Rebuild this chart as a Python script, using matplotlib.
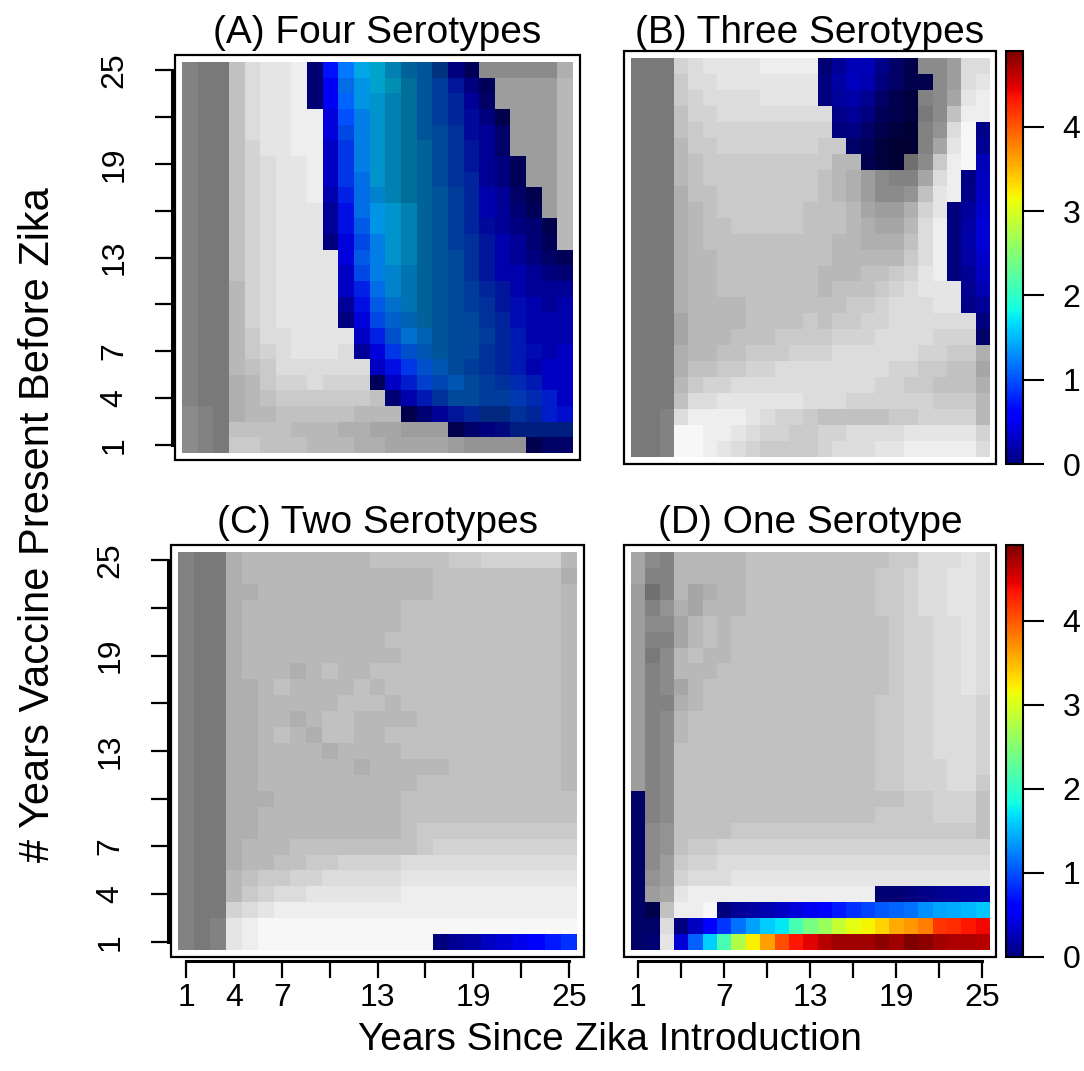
import numpy as np
import matplotlib
matplotlib.use("Agg")
import matplotlib.pyplot as plt
from matplotlib.colors import Normalize
from matplotlib.cm import ScalarMappable
from matplotlib.patches import Rectangle

plt.rcParams['font.family'] = ['Liberation Sans', 'DejaVu Sans']

W, H = 1084, 1071
TICKS = [1, 4, 7, 10, 13, 16, 19, 22, 25]
Y_LABELS = ['1', '4', '7', '', '13', '', '19', '', '25']
X_LABELS_C = ['1', '4', '7', '', '13', '', '19', '', '25']
X_LABELS_D = ['1', '', '7', '', '13', '', '19', '', '25']
CB_TICKS = [0, 1, 2, 3, 4]
VMAX = 4.9
TITLES = ['(A) Four Serotypes', '(B) Three Serotypes',
          '(C) Two Serotypes', '(D) One Serotype']

# grey cells: hex digit k -> level (112 + 9k) / 255, one string per row from
# year 25 (top) down to year 1, "." where the cell is coloured instead
A_GREY = [
    "2119cdde" + "." * 11 + "333337",
    "2119cdde" + "." * 12 + "55558",
    "2119cdde" + "." * 12 + "55558",
    "2119cddee" + "." * 12 + "5558",
    "2119cddee" + "." * 12 + "5558",
    "2119bddee" + "." * 12 + "5558",
    "2119bcdde" + "." * 13 + "558",
    "2119bcdde" + "." * 13 + "558",
    "2119bcdde" + "." * 14 + "58",
    "2119bcddd" + "." * 14 + "58",
    "2119bcddd" + "." * 15 + "8",
    "2119bcddd" + "." * 15 + "8",
    "2119bcdddd" + "." * 15,
    "2119bcdddd" + "." * 15,
    "2118bcdddd" + "." * 15,
    "2118bcdddd" + "." * 15,
    "2118bcdddd" + "." * 15,
    "2118accdddd" + "." * 14,
    "2118abcdddc" + "." * 14,
    "21189acccccc" + "." * 13,
    "21178abbcbbb" + "." * 13,
    "211789aaaaaa9" + "." * 12,
    "32178899999888" + "." * 11,
    "32199998887766555" + "." * 8,
    "321aa99988877666654444" + "." * 3,
]

# coloured cells: (year, first column, values, shade digits d -> (d + 1) / 10)
A_RUNS = [
    (25, 9, [0, 0.7, 1.2, 1.5, 1.6, 1.5, 1.4, 1.3, 1.1, 0, 0], "89987655496"),
    (24, 9, [0, 0.5, 1.2, 1.4, 1.6, 1.6, 1.5, 1.3, 1.1, 0.8, 0, 0], "898876555596"),
    (23, 9, [0, 0.5, 1.1, 1.4, 1.5, 1.5, 1.5, 1.3, 1.1, 0.9, 0.1, 0], "899876555597"),
    (22, 10, [0.4, 1.0, 1.3, 1.5, 1.5, 1.5, 1.3, 1.1, 0.9, 0.7, 0, 0], "998765555595"),
    (21, 10, [0.4, 1.0, 1.3, 1.5, 1.5, 1.5, 1.3, 1.2, 1.0, 0.7, 0.1, 0], "988765555597"),
    (20, 10, [0.3, 0.9, 1.3, 1.5, 1.5, 1.5, 1.4, 1.2, 1.0, 0.8, 0.1, 0], "988765555597"),
    (19, 10, [0.3, 0.9, 1.3, 1.5, 1.5, 1.5, 1.4, 1.2, 1.0, 0.8, 0.1, 0, 0], "9887655555996"),
    (18, 10, [0.3, 0.9, 1.2, 1.5, 1.5, 1.5, 1.4, 1.2, 1.0, 0.9, 0.1, 0, 0], "9887655555996"),
    (17, 10, [0.2, 0.8, 1.2, 1.4, 1.5, 1.5, 1.4, 1.3, 1.1, 0.9, 0.2, 0.1, 0, 0], "98876555559975"),
    (16, 10, [0.1, 0.7, 1.2, 1.4, 1.5, 1.5, 1.4, 1.3, 1.1, 0.9, 0.2, 0.1, 0, 0], "98887655559986"),
    (15, 10, [0.1, 0.7, 1.1, 1.4, 1.5, 1.5, 1.4, 1.3, 1.1, 0.9, 0.7, 0.1, 0, 0, 0], "988876555559985"),
    (14, 10, [0, 0.4, 1.0, 1.3, 1.5, 1.5, 1.4, 1.3, 1.1, 1.0, 0.8, 0.2, 0.1, 0, 0], "998876555559986"),
    (13, 11, [0.4, 1.1, 1.3, 1.5, 1.5, 1.4, 1.3, 1.2, 1.0, 0.8, 0.2, 0.1, 0, 0, 0], "988765555599976"),
    (12, 11, [0.3, 1.0, 1.3, 1.4, 1.4, 1.4, 1.3, 1.2, 1.0, 0.8, 0.2, 0.2, 0.1, 0, 0], "988765555599998"),
    (11, 11, [0.3, 0.8, 1.2, 1.4, 1.4, 1.4, 1.3, 1.2, 1.1, 0.9, 0.8, 0.2, 0.1, 0.1, 0.1], "988765555559999"),
    (10, 11, [0.1, 0.7, 1.1, 1.3, 1.4, 1.4, 1.3, 1.2, 1.1, 1.0, 0.8, 0.7, 0.2, 0.1, 0.2], "988765555556999"),
    (9, 11, [0, 0.4, 1.0, 1.2, 1.3, 1.4, 1.3, 1.2, 1.2, 1.0, 0.9, 0.7, 0.2, 0.2, 0.2], "998765555556999"),
    (8, 12, [0.3, 0.8, 1.1, 1.3, 1.3, 1.3, 1.2, 1.2, 1.1, 0.9, 0.8, 0.2, 0.2, 0.2], "98776555556999"),
    (7, 12, [0.1, 0.4, 0.9, 1.1, 1.2, 1.3, 1.2, 1.2, 1.0, 0.9, 0.8, 0.7, 0.2, 0.3], "99876555556699"),
    (6, 13, [0.3, 0.7, 0.9, 1.1, 1.2, 1.2, 1.1, 1.0, 0.9, 0.8, 0.2, 0.3, 0.3], "9887655556999"),
    (5, 13, [0, 0.3, 0.8, 1.0, 1.1, 1.2, 1.2, 1.1, 1.0, 0.9, 0.8, 0.3, 0.3], "6977665556699"),
    (4, 14, [0, 0.2, 0.8, 1.0, 1.2, 1.2, 1.1, 1.1, 1.0, 0.9, 0.8, 0.3], "896555556679"),
    (3, 15, [0, 0, 0.1, 0.8, 0.9, 1.0, 1.0, 1.0, 0.9, 0.8, 0.7], "58955445577"),
    (2, 18, [0, 0, 0, 0.7, 0.9, 0.9, 0.9, 0.9], "57944444"),
    (1, 23, [0, 0, 0], "577"),
]

B_GREY = [
    "111bcddddeeee" + "." * 7 + "335cc",
    "111accddddddd" + "." * 8 + "35cd",
    "111abccccdddd" + "." * 7 + "236de",
    "1119bbcccccccc" + "." * 6 + "139ee",
    "1119abbbbbbbbb" + "." * 6 + "24cf" + ".",
    "1118aabbbbbbbaa" + "." * 5 + "26df" + ".",
    "11189aaaaaaaaa88" + "." * 3 + "03aef" + ".",
    "11189aaaaaaaa98753226ce" + "..",
    "111799aaaaaaa98753349de" + "..",
    "111789aaaaaa99986557bd" + "...",
    "1117899aaaaa99987668ce" + "...",
    "11178999999999887779ce" + "...",
    "111788" + "9" * 8 + "8" + "8888ace" + "...",
    "111788" + "9" * 7 + "888" + "99abde" + "...",
    "111788" + "9" * 7 + "8" + "999" + "abcddd" + "..",
    "11178888" + "9" * 7 + "aabcccdd" + "..",
    "11168888" + "9999" + "a9aa" + "bbcccccc" + ".",
    "1116888" + "999" + "aaaa" + "bbb" + "cccc" + "bbb" + ".",
    "111788" + "99" + "aaa" + "bbb" + "cccccc" + "bb" + "aa7",
    "111799" + "aa" + "bb" + "cccccccc" + "bb" + "aa" + "996",
    "1118abb" + "c" * 10 + "bb" + "aa" + "999" + "7",
    "1119cc" + "dddddd" + "ccc" + "bbbbbb" + "aaa" + "8",
    "112ceeeedcbba" + "99999" + "aa" + "bbbb" + "8",
    "112ffeedcbbaa" + "bb" + "cccc" + "ddddd" + "b",
    "112ffedcb" + "aaaa" + "b" + "ccc" + "dd" + "eeeee" + "c",
]

B_RUNS = [
    (25, 14, [0, 0.11, 0.24, 0.24, 0.05, 0, 0], "8999975"),
    (24, 14, [0, 0.16, 0.27, 0.22, 0, 0, 0, 0], "99999755"),
    (23, 14, [0, 0.13, 0.19, 0.09, 0, 0, 0], "9999754"),
    (22, 15, [0.05, 0.11, 0, 0, 0, 0], "999654"),
    (21, 15, [0, 0.02, 0, 0, 0, 0], "997543"),
    (21, 25, [0.05], "9"),
    (20, 16, [0, 0, 0, 0, 0], "76433"),
    (20, 25, [0.09], "9"),
    (19, 17, [0, 0, 0], "543"),
    (19, 25, [0.24], "9"),
    (18, 24, [0.02, 0.27], "99"),
    (17, 24, [0.05, 0.30], "99"),
    (16, 23, [0, 0.13, 0.34], "999"),
    (15, 23, [0, 0.16, 0.38], "999"),
    (14, 23, [0, 0.19, 0.38], "999"),
    (13, 23, [0, 0.16, 0.32], "999"),
    (12, 23, [0, 0.11, 0.27], "999"),
    (11, 24, [0.09, 0.22], "99"),
    (10, 24, [0.05, 0.11], "99"),
    (9, 25, [0], "9"),
    (8, 25, [0], "7"),
]

C_GREY = [
    "211788" + "8" * 6 + "9999" + "9aabbbbb" + "8",
    "211788" + "8" * 10 + "9" * 8 + "7",
    "211778" + "8" * 10 + "9" * 8 + "8",
    "211788" + "8" * 8 + "9" * 10 + "8",
    "211788" + "8" * 8 + "9" * 10 + "8",
    "211788" + "8" * 7 + "9" + "9" * 10 + "8",
    "211788" + "8" * 8 + "9" * 10 + "8",
    "21178" + "887898" + "8" + "99" + "9" * 10 + "8",
    "21177" + "89" + "8888" + "98" + "99" + "9" * 9 + "8",
    "21177" + "88888" + "9" + "99" + "8" + "9" * 10 + "8",
    "21177" + "8878" + "99" + "8888" + "9" * 9 + "8",
    "21177" + "8987" + "99" + "88" + "9" * 11 + "8",
    "21177" + "8888" + "7" + "8888" + "9" * 10 + "8",
    "21177" + "888888" + "78" + "8888" + "9" * 7 + "8",
    "21177" + "8" * 10 + "9" * 9 + "8",
    "211777" + "8" * 8 + "9" * 10 + "9",
    "211778" + "8" * 8 + "9" * 10 + "9",
    "2117788" + "8" * 7 + "9" + "a" * 10,
    "211788" + "8" + "9" * 8 + "a" + "b" * 9,
    "21178" + "899" + "aa" + "bbbb" + "c" * 11,
    "2118" + "9aabbc" + "cccc" + "d" * 11,
    "2118" + "abccd" + "ddddd" + "e" * 11,
    "211b" + "cde" + "e" * 18,
    "212d" + "e" + "f" * 20,
    "212d" + "e" + "f" * 11 + "." * 9,
]

C_RUNS = [
    (1, 17, [0, 0.11, 0.17, 0.30, 0.38, 0.46, 0.57, 0.74, 0.86], "999999999"),
]

D_GREY = [
    "632" + "88888" + "9" * 9 + "9aacccdc",
    "622" + "88888" + "9" * 9 + "aabccddc",
    "502" + "86788" + "9" * 9 + "aabccddc",
    "524" + "76888" + "9" * 9 + "aabccddc",
    "533" + "68989" + "9" * 9 + "9abbccdc",
    "522" + "68989" + "9" * 9 + "9abbccdc",
    "513" + "89889" + "9" * 9 + "9abbccdc",
    "523" + "88899" + "9" * 9 + "9abbccdc",
    "523" + "68999" + "9" * 9 + "9abbccdc",
    "522" + "78999" + "9" * 9 + "aabbcccb",
    "523" + "89999" + "9" * 9 + "aabbcccb",
    "523" + "89999" + "9" * 9 + "aabbcccb",
    "523" + "99999" + "9" * 9 + "aabbcccb",
    "523" + "99999" + "9" * 9 + "aabbbccb",
    "523" + "99999" + "9" * 9 + "aabbbcca",
    ".23" + "99999" + "9" * 9 + "99aabbb9",
    ".23" + "99999" + "9" * 9 + "aaaabbb9",
    ".34" + "9999a" + "a" * 9 + "aaaaaaa9",
    ".34" + "9aabb" + "b" * 9 + "b" * 8,
    ".35" + "abbcc" + "c" * 9 + "c" * 8,
    ".45" + "bcccd" + "d" * 9 + "d" * 8,
    ".56" + "deeee" + "e" * 9 + "." * 8,
    "..9" + "eef" + "." * 19,
    "..c" + "." * 22,
    "..d" + "." * 22,
]

D_RUNS = [
    (10, 1, [0], "7"),
    (9, 1, [0], "7"),
    (8, 1, [0], "7"),
    (7, 1, [0], "7"),
    (6, 1, [0], "7"),
    (5, 1, [0], "7"),
    (4, 1, [0], "7"),
    (4, 18, [0, 0, 0, 0.05, 0.09, 0.11, 0.14, 0.16], "88999999"),
    (3, 1, [0, 0], "75"),
    (3, 7, [0, 0.11, 0.16, 0.22, 0.30, 0.40, 0.49, 0.57, 0.74, 0.86,
            0.94, 1.04, 1.10, 1.16, 1.32, 1.40, 1.45, 1.50, 1.58], "9" * 19),
    (2, 1, [0, 0], "77"),
    (2, 4, [0, 0.27, 0.57, 0.88, 1.16, 1.38, 1.60, 1.74, 2.13, 2.43, 2.63,
            2.89, 3.08, 3.19, 3.36, 3.57, 3.67, 3.80, 4.19, 4.23, 4.33, 4.41], "9" * 22),
    (1, 1, [0, 0], "78"),
    (1, 4, [0.38, 1.08, 1.62, 2.14, 2.76, 3.21, 3.63, 4.05, 4.33, 4.46, 4.66,
            4.76, 4.76, 4.76, 4.84, 4.76, 4.90, 4.84, 4.73, 4.69, 4.69, 4.66], "9" * 22),
]

cmap = plt.get_cmap('jet')
norm = Normalize(0, VMAX)


def grey_grid(rows):
    g = np.full((25, 25), np.nan)
    for i, row in enumerate(rows):
        for j, ch in enumerate(row[:25]):
            if ch != '.':
                g[24 - i, j] = (112 + 9 * int(ch, 16)) / 255
    return g


def colour_grid(runs):
    rgba = np.zeros((25, 25, 4))
    for year, first, vals, shade in runs:
        cols = cmap(norm(np.array(vals, dtype=float)))
        k = np.array([int(s) + 1 for s in shade]) / 10
        cols[:, :3] *= k[:, None]
        rgba[year - 1, first - 1:first - 1 + len(vals)] = cols
    return rgba


fig = plt.figure(figsize=(W / 100, H / 100), dpi=100)


def px_axes(left, top, width, height):
    return fig.add_axes([left / W, 1 - (top + height) / H, width / W, height / H])


def draw_panel(box, grey_rows, runs, ylabels=None, xlabels=None):
    ax = px_axes(*box)
    ext = (0.5, 25.5, 0.5, 25.5)
    ax.imshow(grey_grid(grey_rows), cmap='gray', vmin=0, vmax=1, origin='lower',
              extent=ext, interpolation='nearest', aspect='auto')
    ax.imshow(colour_grid(runs), origin='lower', extent=ext,
              interpolation='nearest', aspect='auto')
    ax.set_xlim(0.04, 25.96)
    ax.set_ylim(0.04, 25.96)
    for sp in ax.spines.values():
        sp.set_visible(False)
    ax.add_patch(Rectangle((0, 0), 1, 1, transform=ax.transAxes, fill=False,
                           ec='black', lw=1.6, clip_on=False, zorder=5))
    ax.tick_params(left=False, bottom=False, labelleft=False, labelbottom=False)
    if ylabels is not None:
        sp = ax.spines['left']
        sp.set_visible(True)
        sp.set_position(('outward', 2))
        sp.set_bounds(1, 25)
        sp.set_linewidth(2.2)
        ax.set_yticks(TICKS)
        ax.set_yticklabels(ylabels, rotation=90, va='center', ha='center')
        ax.tick_params(axis='y', left=True, labelleft=True, length=12,
                       width=1.6, pad=29.5, labelsize=23)
    if xlabels is not None:
        sp = ax.spines['bottom']
        sp.set_visible(True)
        sp.set_position(('outward', 3))
        sp.set_bounds(1, 25)
        sp.set_linewidth(2.2)
        ax.set_xticks(TICKS)
        ax.set_xticklabels(xlabels)
        ax.tick_params(axis='x', bottom=True, labelbottom=True, length=12,
                       width=1.6, pad=3.5, labelsize=23)
    return ax


def draw_colourbar(box):
    cax = px_axes(*box)
    cb = fig.colorbar(ScalarMappable(norm=norm, cmap=cmap), cax=cax, ticks=CB_TICKS)
    cb.outline.set_linewidth(1.5)
    cax.tick_params(length=15, width=1.5, labelsize=23, pad=13.5)
    cax.minorticks_off()


draw_panel((175, 55, 405, 405), A_GREY, A_RUNS, ylabels=Y_LABELS)
draw_panel((624, 51, 372, 413), B_GREY, B_RUNS)
draw_panel((171, 545, 413, 412), C_GREY, C_RUNS, ylabels=Y_LABELS, xlabels=X_LABELS_C)
draw_panel((624, 545, 372, 412), D_GREY, D_RUNS, xlabels=X_LABELS_D)
draw_colourbar((1006, 51, 17, 413))
draw_colourbar((1006, 545, 17, 412))

for title, (cx, cy) in zip(TITLES, [(377.5, 33), (810, 33), (377.5, 523), (810, 523)]):
    fig.text(cx / W, 1 - cy / H, title, ha='center', va='center', fontsize=28)

fig.text(610 / W, 1 - 1040 / H, 'Years Since Zika Introduction',
         ha='center', va='center', fontsize=28)
fig.text(38 / W, 1 - 525 / H, '# Years Vaccine Present Before Zika',
         ha='center', va='center', rotation=90, fontsize=30)

fig.savefig('out.png', dpi=100)
